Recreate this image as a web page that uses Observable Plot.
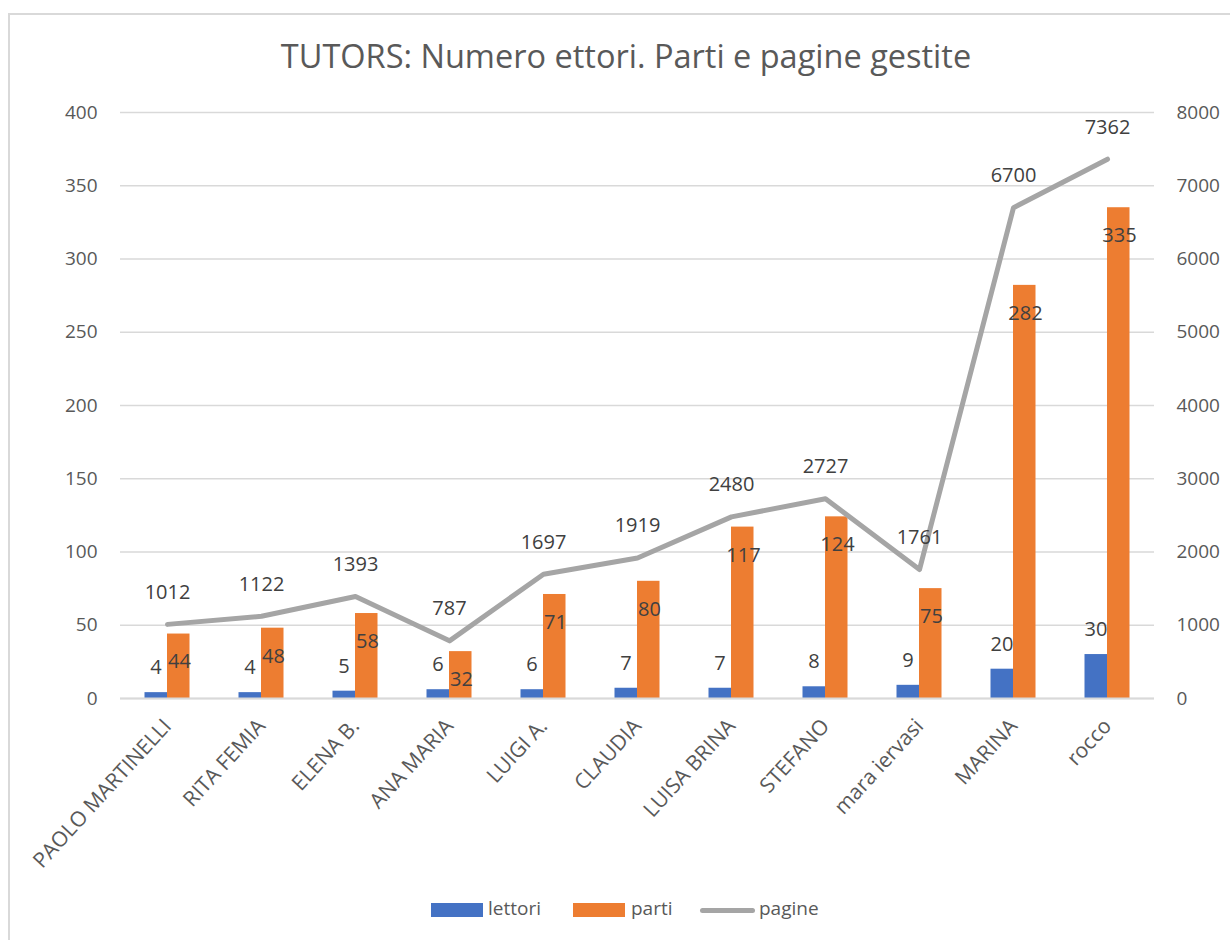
<!DOCTYPE html>
<html>
<head>
<meta charset="utf-8">
<script src="https://cdn.jsdelivr.net/npm/d3@7"></script>
<script src="https://cdn.jsdelivr.net/npm/@observablehq/plot@0.6"></script>
<style>
  html, body { margin: 0; padding: 0; background: #fff; }
  #wrap { position: relative; width: 1230px; height: 940px; overflow: hidden; font-family: "Open Sans", sans-serif; }
  #frame { position: absolute; left: 8px; top: 13px; width: 1240px; height: 960px; border: 2px solid #d9d9d9; box-sizing: border-box; }
  #title { position: absolute; left: 0; width: 1252px; top: 33px; text-align: center; font-size: 32.5px; color: #595959; white-space: nowrap; }
  #chart { position: absolute; left: 0; top: 0; }
  #legend { position: absolute; top: 896px; left: 431px; height: 28px; font-size: 19px; color: #595959; }
  .sw { position: absolute; top: 7px; height: 14px; }
  .lt { position: absolute; top: -1px; white-space: nowrap; }
</style>
</head>
<body>
<div id="wrap">
  <div id="frame"></div>
  <div id="title">TUTORS: Numero ettori. Parti e pagine gestite</div>
  <div id="chart"></div>
  <div id="legend">
    <div class="sw" style="left:0;width:52px;background:#4472C4"></div>
    <div class="lt" style="left:57px">lettori</div>
    <div class="sw" style="left:142px;width:52px;background:#ED7D31"></div>
    <div class="lt" style="left:200px">parti</div>
    <div class="sw" style="left:269px;top:12px;width:55px;height:5px;border-radius:3px;background:#A5A5A5"></div>
    <div class="lt" style="left:328px">pagine</div>
  </div>
</div>
<script>
const categories = ["PAOLO MARTINELLI", "RITA FEMIA", "ELENA B.", "ANA MARIA", "LUIGI A.", "CLAUDIA", "LUISA BRINA", "STEFANO", "mara iervasi", "MARINA", "rocco"];
const lettori = [4, 4, 5, 6, 6, 7, 7, 8, 9, 20, 30];
const parti = [44, 48, 58, 32, 71, 80, 117, 124, 75, 282, 335];
const pagine = [1012, 1122, 1393, 787, 1697, 1919, 2480, 2727, 1761, 6700, 7362];
const leftTicks = [0, 50, 100, 150, 200, 250, 300, 350, 400];
const rightTicks = [0, 1000, 2000, 3000, 4000, 5000, 6000, 7000, 8000];
const axisRatio = 8000 / 400;

const data = categories.map((c, i) => ({cat: c, lettori: lettori[i], parti: parti[i], pagine: pagine[i]}));

const W = 1230, H = 940;
const plot = Plot.plot({
  width: W,
  height: H,
  marginLeft: 120,
  marginRight: 76,
  marginTop: 112,
  marginBottom: 242,
  style: {fontFamily: "'Open Sans', sans-serif", background: "transparent", overflow: "visible"},
  x: {domain: categories, padding: 0},
  y: {domain: [0, 400]},
  marks: [
    Plot.gridY(leftTicks, {stroke: "#d9d9d9", strokeOpacity: 1, strokeWidth: 1.5}),
    Plot.barY(data, {x: "cat", y: "lettori", fill: "#4472C4", insetLeft: 24.5, insetRight: 47}),
    Plot.barY(data, {x: "cat", y: "parti", fill: "#ED7D31", insetLeft: 47, insetRight: 24.5}),
    Plot.ruleY([0], {stroke: "#d9d9d9", strokeWidth: 2}),
    Plot.line(data, {x: "cat", y: d => d.pagine / axisRatio, stroke: "#A5A5A5", strokeWidth: 5, strokeLinecap: "round", strokeLinejoin: "round"}),
    Plot.text(data, {x: "cat", y: "lettori", text: d => String(d.lettori), dx: -11.5, dy: -25, fontSize: 20, fill: "#404040"}),
    Plot.text(data, {x: "cat", y: "parti", text: d => String(d.parti), dx: 12, dy: 28, fontSize: 20, fill: "#404040"}),
    Plot.text(data, {x: "cat", y: d => d.pagine / axisRatio, text: d => String(d.pagine), dy: -32, fontSize: 20, fill: "#404040"}),
    Plot.axisY(leftTicks, {anchor: "left", tickSize: 0, tickPadding: 23, fontSize: 19, color: "#595959", label: null}),
    Plot.axisY(rightTicks.map(v => v / axisRatio), {anchor: "right", tickSize: 0, tickPadding: 22, fontSize: 19, color: "#595959", label: null, tickFormat: d => String(Math.round(d * axisRatio))}),
    Plot.axisX({tickRotate: -47.5, tickSize: 0, tickPadding: 24, fontSize: 21, color: "#595959", label: null})
  ]
});
document.getElementById("chart").appendChild(plot);
</script>
</body>
</html>
